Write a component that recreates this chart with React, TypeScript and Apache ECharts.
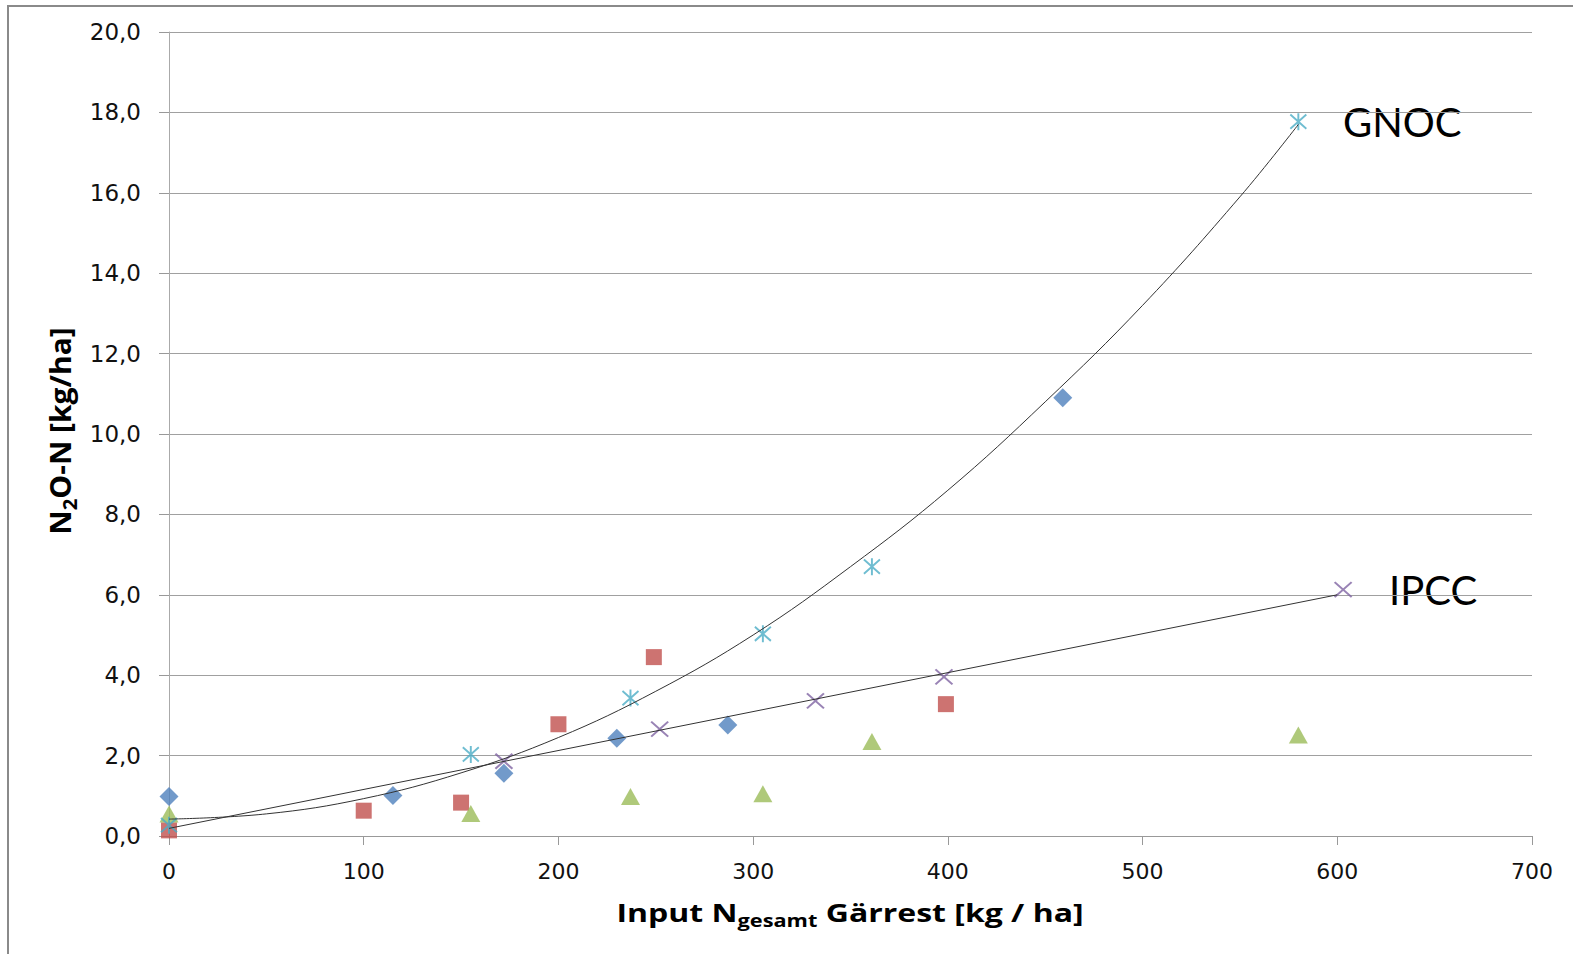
import React, { useEffect, useRef } from "react";
import * as echarts from "echarts";

// ---- data ----
const blueX = [0, 115, 172, 230, 287, 459];
const blueY = [0.98, 1.01, 1.56, 2.43, 2.76, 10.9];

const redX = [0, 100, 150, 200, 249, 399];
const redY = [0.14, 0.63, 0.83, 2.78, 4.45, 3.28];

const greenX = [0, 155, 237, 305, 361, 580];
const greenY = [0.55, 0.56, 0.98, 1.05, 2.35, 2.51];

const cyanX = [0, 155, 237, 305, 361, 580];
const cyanY = [0.27, 2.03, 3.43, 5.03, 6.7, 17.77];

const purpleX = [172, 252, 332, 398, 603];
const purpleY = [1.86, 2.66, 3.36, 3.96, 6.13];

// GNOC trend curve
const gnocX = [0, 50, 100, 150, 200, 250, 300, 350, 400, 450, 500, 550, 580];
const gnocY = [0.42, 0.55, 0.93, 1.57, 2.45, 3.6, 5.0, 6.7, 8.6, 10.8, 13.2, 15.9, 17.7];

// IPCC straight line endpoints
const ipccX = [0, 600];
const ipccY = [0.19, 6.0];

const yMin = 0;
const yMax = 20;
const yStep = 2;
const xMin = 0;
const xMax = 700;
const xStep = 100;

const annotations = ["GNOC", "IPCC"];

const pair = (xs: number[], ys: number[]) => xs.map((x, i) => [x, ys[i]]);

const X_PATH = "path://M0,0L10,10M10,0L0,10";
const STAR_PATH = "path://M0,0L10,10M10,0L0,10M5,-1L5,11";

export default function App() {
  const ref = useRef<HTMLDivElement>(null);
  useEffect(() => {
    document.body.style.margin = "0";
    const chart = echarts.init(ref.current!, null, { renderer: "svg" });
    const tickFont = "DejaVu Sans";
    const titleFont = "Open Sans";
    const annFont = "Lato";
    chart.setOption({
      animation: false,
      backgroundColor: "#ffffff",
      grid: { left: 169, right: 41, top: 32, bottom: 118, containLabel: false },
      xAxis: {
        type: "value",
        min: xMin,
        max: xMax,
        interval: xStep,
        axisLine: { show: true, lineStyle: { color: "#999999", width: 1 } },
        axisTick: { show: true, length: 9, lineStyle: { color: "#999999" } },
        splitLine: { show: false },
        axisLabel: {
          margin: 24,
          fontFamily: tickFont,
          fontSize: 22,
          color: "#111111",
        },
      },
      yAxis: {
        type: "value",
        min: yMin,
        max: yMax,
        interval: yStep,
        axisLine: { show: true, lineStyle: { color: "#aaaaaa", width: 1 } },
        axisTick: { show: true, length: 10, lineStyle: { color: "#999999" } },
        splitLine: { show: true, lineStyle: { color: "#a0a0a0", width: 1 } },
        axisLabel: {
          margin: 28,
          fontFamily: tickFont,
          fontSize: 23,
          color: "#111111",
          formatter: (v: number) => v.toFixed(1).replace(".", ","),
        },
      },
      series: [
        {
          type: "scatter",
          data: pair(blueX, blueY),
          symbol: "diamond",
          symbolSize: [19, 19],
          itemStyle: { color: "#4F81BD" },
          z: 2,
        },
        {
          type: "scatter",
          data: pair(redX, redY),
          symbol: "rect",
          symbolSize: 16,
          itemStyle: { color: "#C0504D" },
          z: 2,
        },
        {
          type: "scatter",
          data: pair(greenX, greenY),
          symbol: "triangle",
          symbolSize: [19, 17],
          itemStyle: { color: "#9BBB59" },
          z: 2,
        },
        {
          type: "scatter",
          data: pair(purpleX, purpleY),
          symbol: X_PATH,
          symbolSize: [17, 15],
          itemStyle: { color: "none", borderColor: "#8064A2", borderWidth: 2 },
          z: 2,
        },
        {
          type: "scatter",
          data: pair(cyanX, cyanY),
          symbol: STAR_PATH,
          symbolSize: [16, 17],
          itemStyle: { color: "none", borderColor: "#4BACC6", borderWidth: 2 },
          z: 2,
        },
        {
          type: "line",
          data: pair(gnocX, gnocY),
          smooth: 0.4,
          symbol: "none",
          lineStyle: { color: "#333333", width: 1 },
          z: 3,
        },
        {
          type: "line",
          data: pair(ipccX, ipccY),
          symbol: "none",
          lineStyle: { color: "#333333", width: 1 },
          z: 3,
        },
      ],
      graphic: [
        {
          type: "rect",
          shape: { x: 8, y: 6, width: 1700, height: 1100 },
          style: { fill: "none", stroke: "#8a8a8a", lineWidth: 2 },
          silent: true,
          z: -1,
        },
        {
          type: "text",
          x: 1343,
          y: 122,
          style: {
            text: annotations[0],
            fontFamily: annFont,
            fontSize: 40,
            fill: "#000000",
            textAlign: "left",
            textVerticalAlign: "middle",
          },
        },
        {
          type: "text",
          x: 1389,
          y: 590,
          style: {
            text: annotations[1],
            fontFamily: annFont,
            fontSize: 40,
            fill: "#000000",
            textAlign: "left",
            textVerticalAlign: "middle",
          },
        },
        {
          type: "text",
          x: 850,
          y: 912,
          scaleX: 1.28,
          style: {
            text: "{m|Input N}{s|gesamt}{m| Gärrest [kg / ha]}",
            textAlign: "center",
            textVerticalAlign: "middle",
            rich: {
              m: { fontFamily: titleFont, fontWeight: "bold", fontSize: 25, lineHeight: 34, fill: "#000000" },
              s: { fontFamily: titleFont, fontWeight: "bold", fontSize: 17, lineHeight: 17, verticalAlign: "bottom", fill: "#000000" },
            },
          },
        },
        {
          type: "text",
          x: 60,
          y: 431,
          rotation: Math.PI / 2,
          scaleX: 1.2,
          scaleY: 1.15,
          style: {
            text: "{m|N}{s|2}{m|O-N [kg/ha]}",
            textAlign: "center",
            textVerticalAlign: "middle",
            rich: {
              m: { fontFamily: titleFont, fontWeight: "bold", fontSize: 25, lineHeight: 34, fill: "#000000" },
              s: { fontFamily: titleFont, fontWeight: "bold", fontSize: 17, lineHeight: 17, verticalAlign: "bottom", fill: "#000000" },
            },
          },
        },
      ],
    });
    return () => chart.dispose();
  }, []);
  return (
    <div
      ref={ref}
      style={{ position: "fixed", left: 0, top: 0, width: 1573, height: 954 }}
    />
  );
}
